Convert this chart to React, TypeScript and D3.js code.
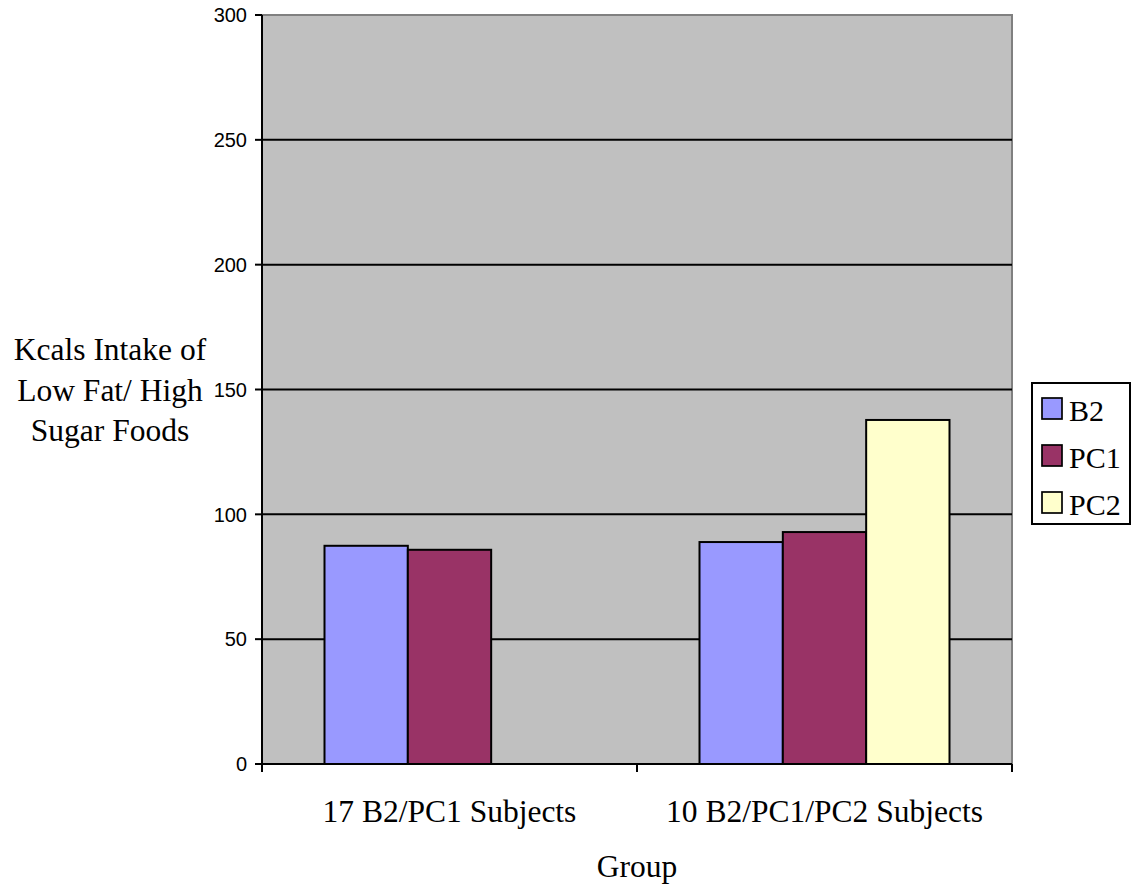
import React from "react";
import * as d3 from "d3";

const categories = ["17 B2/PC1 Subjects", "10 B2/PC1/PC2 Subjects"];
const seriesNames = ["B2", "PC1", "PC2"];
const seriesColors = ["#9999FF", "#993366", "#FFFFCC"];
const valuesB2 = [87.4, 88.9];
const valuesPC1 = [85.8, 92.9];
const valuesPC2: (number | null)[] = [null, 137.8];
const yTicks = [0, 50, 100, 150, 200, 250, 300];
const yTitleLines = ["Kcals Intake of", "Low Fat/ High", "Sugar Foods"];
const xTitle = "Group";

const W = 1132;
const H = 890;
const plot = { left: 262, right: 1012, top: 15, bottom: 764 };
const serif = "'Liberation Serif', 'Times New Roman', serif";
const sans = "'Liberation Sans', Arial, sans-serif";

export default function App() {
  const series = [valuesB2, valuesPC1, valuesPC2];
  const y = d3.scaleLinear().domain([0, 300]).range([plot.bottom, plot.top]);
  const x0 = d3.scaleBand<string>().domain(categories).range([plot.left, plot.right]).padding(0);
  const x1 = d3
    .scaleBand<string>()
    .domain(seriesNames)
    .range([0, x0.bandwidth()])
    .paddingInner(0)
    .paddingOuter(0.75);

  const legendItems = seriesNames.map((n, i) => ({ name: n, color: seriesColors[i] }));

  return (
    <svg
      width={W}
      height={H}
      style={{ position: "absolute", left: 0, top: 0, display: "block" }}
      xmlns="http://www.w3.org/2000/svg"
    >
      <rect x={0} y={0} width={W} height={H} fill="#fff" />
      <rect
        x={plot.left}
        y={plot.top}
        width={plot.right - plot.left}
        height={plot.bottom - plot.top}
        fill="#C0C0C0"
      />
      <path
        d={`M${plot.left},${plot.top}H${plot.right}V${plot.bottom}`}
        fill="none"
        stroke="#808080"
        strokeWidth={2}
      />
      {yTicks
        .filter((t) => t > 0 && t < 300)
        .map((t) => (
          <line
            key={"g" + t}
            x1={plot.left}
            x2={plot.right}
            y1={y(t)}
            y2={y(t)}
            stroke="#000"
            strokeWidth={2}
          />
        ))}
      {categories.map((c, ci) =>
        seriesNames.map((s, si) => {
          const v = series[si][ci];
          if (v == null) return null;
          const bx = (x0(c) as number) + (x1(s) as number);
          return (
            <rect
              key={c + s}
              x={bx}
              y={y(v)}
              width={x1.bandwidth()}
              height={y(0) - y(v)}
              fill={seriesColors[si]}
              stroke="#000"
              strokeWidth={2}
            />
          );
        })
      )}
      <line x1={plot.left} x2={plot.left} y1={plot.top} y2={plot.bottom} stroke="#000" strokeWidth={2} />
      {yTicks.map((t) => (
        <g key={"t" + t}>
          <line x1={plot.left - 7} x2={plot.left} y1={y(t)} y2={y(t)} stroke="#000" strokeWidth={2} />
          <text
            x={plot.left - 15}
            y={y(t)}
            dy="0.36em"
            textAnchor="end"
            fontFamily={sans}
            fontSize={20}
            fill="#000"
          >
            {t}
          </text>
        </g>
      ))}
      <line x1={plot.left} x2={plot.right} y1={plot.bottom} y2={plot.bottom} stroke="#000" strokeWidth={2} />
      {[plot.left, ...categories.map((c) => (x0(c) as number) + x0.bandwidth())].map((px, i) => (
        <line key={"xt" + i} x1={px} x2={px} y1={plot.bottom} y2={plot.bottom + 8} stroke="#000" strokeWidth={2} />
      ))}
      {categories.map((c) => (
        <text
          key={"xl" + c}
          x={(x0(c) as number) + x0.bandwidth() / 2}
          y={822}
          textAnchor="middle"
          fontFamily={serif}
          fontSize={31.5}
          fill="#000"
        >
          {c}
        </text>
      ))}
      <text x={637} y={877} textAnchor="middle" fontFamily={serif} fontSize={31.5} fill="#000">
        {xTitle}
      </text>
      {yTitleLines.map((l, i) => (
        <text
          key={"yt" + i}
          x={110}
          y={360 + i * 40.5}
          textAnchor="middle"
          fontFamily={serif}
          fontSize={31.5}
          fill="#000"
        >
          {l}
        </text>
      ))}
      <rect x={1032} y={383} width={98} height={141} fill="#fff" stroke="#000" strokeWidth={2} />
      {legendItems.map((it, i) => (
        <g key={"lg" + it.name} transform={`translate(0, ${409 + i * 47})`}>
          <rect x={1042} y={-11} width={20} height={21} fill={it.color} stroke="#000" strokeWidth={1.7} />
          <text x={1069} y={12} fontFamily={serif} fontSize={30} fill="#000">
            {it.name}
          </text>
        </g>
      ))}
    </svg>
  );
}
